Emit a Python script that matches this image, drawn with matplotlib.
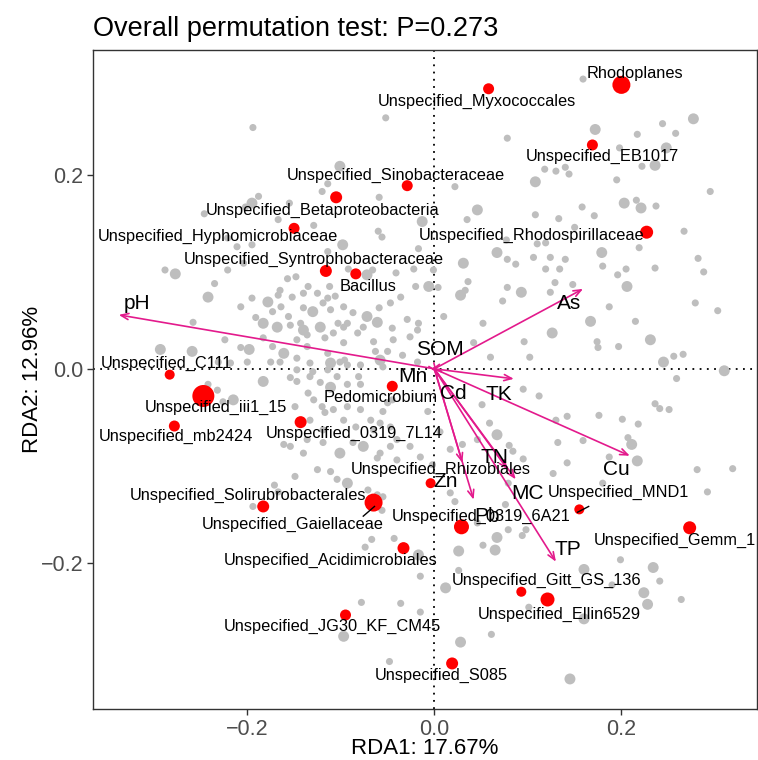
import matplotlib
matplotlib.use("Agg")
import matplotlib.pyplot as plt
import numpy as np

plt.rcParams['font.family'] = ['Liberation Sans', 'DejaVu Sans']

# ---------------- data ----------------
title = "Overall permutation test: P=0.273"
xlabel = "RDA1: 17.67%"
ylabel = "RDA2: 12.96%"

# background taxa (grey), big = higher abundance
grey_pts = [
    (-0.194, 0.249, 0), (-0.052, 0.259, 0), (-0.101, 0.209, 1), (-0.114, 0.191, 0), (-0.120, 0.183, 0),
    (-0.059, 0.177, 0), (-0.188, 0.178, 0), (-0.195, 0.171, 1), (-0.202, 0.167, 0), (-0.155, 0.171, 0),
    (-0.246, 0.160, 0), (-0.167, 0.154, 0), (-0.129, 0.148, 0), (-0.060, 0.142, 0), (-0.056, 0.136, 0),
    (-0.013, 0.152, 1), (-0.098, 0.128, 1), (-0.211, 0.126, 0), (-0.017, 0.124, 0), (-0.288, 0.102, 0),
    (-0.277, 0.098, 1), (-0.221, 0.102, 0), (-0.092, 0.103, 0), (-0.072, 0.097, 1), (-0.066, 0.102, 0),
    (-0.041, 0.099, 0), (-0.022, 0.103, 0), (-0.235, 0.088, 0), (-0.157, 0.093, 0), (-0.148, 0.095, 0),
    (-0.112, 0.085, 0), (-0.020, 0.085, 0), (0.159, 0.299, 0), (0.172, 0.247, 1), (0.244, 0.253, 0),
    (0.277, 0.258, 1), (0.217, 0.242, 0), (0.258, 0.243, 0), (0.078, 0.238, 0), (0.248, 0.228, 1),
    (0.198, 0.228, 0), (0.236, 0.210, 1), (0.222, 0.209, 0), (0.118, 0.206, 0), (0.130, 0.204, 0),
    (0.140, 0.208, 0), (0.144, 0.201, 0), (0.195, 0.195, 0), (0.108, 0.193, 1), (0.022, 0.188, 0),
    (0.295, 0.183, 0), (0.203, 0.171, 1), (0.216, 0.174, 0), (0.221, 0.166, 1), (0.237, 0.168, 0),
    (0.158, 0.167, 0), (0.046, 0.164, 1), (0.035, 0.154, 0), (0.108, 0.159, 0), (0.133, 0.155, 0),
    (0.150, 0.146, 0), (0.171, 0.158, 0), (0.267, 0.142, 0), (0.179, 0.120, 1), (0.219, 0.125, 0),
    (0.067, 0.120, 1), (0.078, 0.113, 0), (0.087, 0.108, 0), (0.106, 0.115, 0), (0.124, 0.115, 0),
    (0.140, 0.113, 0), (0.119, 0.103, 0), (0.134, 0.103, 0), (0.180, 0.106, 0), (0.196, 0.097, 0),
    (0.205, 0.103, 0), (0.236, 0.104, 0), (0.282, 0.114, 0), (0.288, 0.100, 0), (0.031, 0.109, 1),
    (0.036, 0.090, 0), (0.129, 0.089, 0), (0.148, 0.087, 0), (0.206, 0.085, 1), (-0.001, 0.102, 0),
    (0.077, 0.133, 0), (0.119, 0.130, 0), (0.110, 0.129, 0), (0.124, 0.079, 0), (0.093, 0.079, 1),
    (0.078, 0.084, 0), (-0.221, 0.135, 0), (-0.195, 0.128, 0), (-0.114, 0.121, 0), (-0.204, 0.109, 0),
    (-0.242, 0.074, 1), (-0.165, 0.081, 0), (-0.195, 0.073, 0), (-0.178, 0.069, 1), (-0.167, 0.076, 0),
    (-0.152, 0.074, 0), (-0.140, 0.078, 0), (-0.135, 0.085, 0), (-0.125, 0.078, 0), (-0.114, 0.073, 0),
    (-0.106, 0.075, 0), (-0.006, 0.085, 1), (0.004, 0.084, 0), (0.028, 0.076, 1), (0.033, 0.081, 0),
    (-0.036, 0.074, 0), (-0.047, 0.068, 0), (-0.059, 0.063, 0),
    (-0.164, 0.064, 0), (-0.140, 0.063, 0), (-0.130, 0.059, 1), (-0.119, 0.068, 0), (-0.111, 0.061, 0),
    (-0.097, 0.064, 0), (-0.087, 0.058, 0), (-0.072, 0.054, 1), (-0.061, 0.048, 1), (-0.045, 0.042, 0),
    (-0.029, 0.051, 0), (-0.018, 0.040, 0), (-0.207, 0.064, 0), (-0.173, 0.059, 0), (-0.156, 0.054, 0),
    (-0.191, 0.053, 0), (-0.183, 0.047, 1), (-0.168, 0.043, 1), (-0.154, 0.045, 0), (-0.140, 0.040, 1),
    (-0.122, 0.043, 1), (-0.103, 0.047, 0), (-0.076, 0.043, 0), (-0.258, 0.048, 0), (-0.224, 0.030, 0),
    (-0.293, 0.020, 1), (-0.259, 0.018, 1), (-0.198, 0.020, 1), (-0.173, 0.023, 0), (-0.161, 0.016, 1),
    (-0.136, 0.023, 0), (-0.117, 0.032, 0), (-0.097, 0.027, 0), (-0.082, 0.037, 0), (-0.065, 0.028, 0),
    (-0.050, 0.018, 0), (-0.058, 0.009, 1), (-0.175, 0.007, 0), (-0.147, 0.011, 0), (-0.133, 0.006, 0),
    (-0.111, 0.006, 1), (-0.093, 0.004, 0), (-0.218, 0.006, 0), (-0.200, 0.007, 0), (-0.231, 0.007, 0),
    (-0.143, 0.047, 0), (-0.136, 0.035, 0), (-0.108, 0.037, 0), (-0.097, 0.043, 0), (-0.147, 0.030, 0),
    (-0.183, 0.032, 0), (-0.207, 0.022, 0), (-0.114, 0.016, 0), (-0.165, 0.007, 0), (-0.147, -0.001, 0),
    (-0.130, -0.003, 0), (-0.114, -0.001, 0), (-0.101, 0.007, 0), (-0.093, 0.047, 0), (-0.017, 0.047, 0),
    (-0.026, 0.033, 0), (0.010, 0.054, 0), (0.052, 0.047, 0), (-0.044, 0.030, 0), (-0.063, 0.018, 0),
    (-0.034, 0.014, 0), (-0.018, 0.007, 0), (-0.096, 0.009, 0), (-0.079, 0.004, 0), (-0.055, 0.002, 0),
    (0.042, 0.027, 0), (0.060, 0.012, 0),
    (0.279, 0.068, 0), (0.303, 0.060, 0), (0.187, 0.064, 0), (0.167, 0.049, 1), (0.215, 0.049, 0),
    (0.126, 0.037, 1), (0.096, 0.028, 0), (0.174, 0.028, 0), (0.175, 0.022, 0), (0.197, 0.023, 0),
    (0.231, 0.030, 1), (0.245, 0.007, 1), (0.256, 0.013, 0), (0.266, 0.015, 0), (0.310, -0.002, 1),
    (0.073, 0.070, 0), (0.102, 0.012, 0),
    (-0.183, -0.013, 1), (-0.154, -0.009, 0), (-0.147, -0.013, 0), (-0.133, -0.008, 0), (-0.122, -0.014, 0),
    (-0.111, -0.019, 1), (-0.093, -0.016, 0), (-0.079, -0.016, 0), (-0.104, -0.008, 0), (-0.081, -0.008, 0),
    (-0.242, -0.016, 0), (-0.232, -0.022, 0), (-0.226, -0.034, 0), (-0.215, -0.032, 1), (-0.135, -0.025, 0),
    (-0.129, -0.032, 0), (-0.120, -0.039, 0), (-0.149, -0.039, 0), (-0.117, -0.045, 0), (-0.108, -0.042, 0),
    (-0.093, -0.039, 0), (-0.079, -0.042, 0), (-0.068, -0.053, 0), (-0.058, -0.056, 0), (-0.055, -0.044, 0),
    (-0.050, -0.035, 0), (-0.045, -0.032, 0), (-0.133, -0.053, 0), (-0.097, -0.053, 0), (-0.084, -0.060, 0),
    (-0.065, -0.063, 0), (-0.047, -0.060, 0), (-0.119, -0.063, 0), (-0.154, -0.080, 0), (-0.136, -0.073, 0),
    (-0.101, -0.087, 1), (-0.119, -0.076, 0), (-0.140, -0.087, 0), (-0.076, -0.080, 1), (-0.058, -0.087, 0),
    (-0.040, -0.073, 0), (-0.026, -0.080, 0), (-0.040, -0.094, 0), (-0.015, -0.091, 0), (-0.125, -0.104, 0),
    (-0.111, -0.106, 0), (-0.104, -0.114, 0), (-0.093, -0.118, 1), (-0.071, -0.125, 0), (-0.061, -0.130, 0),
    (-0.171, -0.120, 0), (-0.149, -0.111, 0), (-0.194, -0.142, 0), (-0.087, -0.076, 0), (-0.161, -0.078, 0),
    (-0.061, -0.092, 0), (-0.047, -0.080, 0), (-0.167, -0.127, 0), (-0.060, -0.138, 0),
    (0.259, -0.010, 0), (0.095, -0.021, 0), (0.112, -0.028, 0), (0.051, -0.037, 0), (0.236, -0.036, 0),
    (0.241, -0.041, 0), (0.251, -0.042, 0), (0.130, -0.053, 0), (0.142, -0.049, 0), (0.176, -0.048, 0),
    (0.201, -0.052, 0), (0.218, -0.057, 0), (0.059, -0.056, 0), (0.067, -0.068, 1), (0.159, -0.074, 0),
    (0.132, -0.076, 0), (0.207, -0.071, 0), (0.211, -0.078, 1), (0.080, -0.079, 0), (0.084, -0.085, 0),
    (0.187, -0.091, 0), (0.217, -0.095, 1), (0.142, -0.097, 0), (0.095, -0.093, 0), (0.281, -0.104, 0),
    (0.319, -0.103, 0), (0.180, -0.118, 0), (0.292, -0.127, 0), (0.127, -0.108, 0), (-0.007, -0.044, 0),
    (0.006, -0.065, 0), (0.017, -0.083, 0), (-0.002, -0.099, 0), (0.046, -0.073, 0), (0.030, -0.078, 0),
    (0.079, -0.118, 0), (0.076, -0.140, 0), (0.022, -0.137, 0), (0.046, -0.159, 0), (0.079, -0.166, 0),
    (0.017, -0.128, 0), (0.098, -0.166, 0), (0.094, -0.172, 0), (0.067, -0.174, 1), (0.052, -0.182, 0),
    (0.065, -0.187, 1), (0.026, -0.188, 1), (0.199, -0.197, 0), (0.160, -0.207, 1), (0.234, -0.205, 1),
    (0.241, -0.219, 0), (0.190, -0.223, 0), (0.224, -0.231, 1), (0.264, -0.238, 0), (0.228, -0.243, 1),
    (0.026, -0.208, 0), (0.012, -0.226, 1), (0.092, -0.231, 0), (0.123, -0.235, 0), (0.101, -0.246, 0),
    (0.160, -0.258, 1), (0.061, -0.274, 0), (0.028, -0.282, 1), (0.145, -0.320, 1), (-0.015, -0.214, 0),
    (-0.015, -0.251, 0), (-0.055, -0.132, 0), (-0.056, -0.146, 0), (-0.067, -0.176, 0), (-0.074, -0.184, 0),
    (-0.043, -0.175, 0), (-0.017, -0.192, 1), (-0.078, -0.241, 0), (-0.036, -0.242, 0), (-0.097, -0.276, 1),
    (-0.048, -0.302, 0),
]
grey_x = [p[0] for p in grey_pts]
grey_y = [p[1] for p in grey_pts]
grey_big = [p[2] for p in grey_pts]

# highlighted taxa (red)
taxa = ["Rhodoplanes", "Unspecified_Myxococcales", "Unspecified_EB1017", "Unspecified_Sinobacteraceae",
        "Unspecified_Betaproteobacteria", "Unspecified_Hyphomicrobiaceae", "Unspecified_Rhodospirillaceae",
        "Unspecified_Syntrophobacteraceae", "Bacillus", "Unspecified_C111", "Unspecified_iii1_15",
        "Unspecified_mb2424", "Pedomicrobium", "Unspecified_0319_7L14", "Unspecified_Rhizobiales",
        "Unspecified_Solirubrobacterales", "Unspecified_Gaiellaceae", "Unspecified_0319_6A21",
        "Unspecified_MND1", "Unspecified_Gemm_1", "Unspecified_Acidimicrobiales", "Unspecified_Gitt_GS_136",
        "Unspecified_Ellin6529", "Unspecified_JG30_KF_CM45", "Unspecified_S085"]
taxa_x = [0.200, 0.058, 0.169, -0.029, -0.105, -0.150, 0.227, -0.116, -0.084, -0.283, -0.247,
          -0.278, -0.045, -0.143, -0.004, -0.183, -0.065, 0.029, 0.155, 0.273, -0.033, 0.093,
          0.121, -0.095, 0.019]
taxa_y = [0.293, 0.289, 0.231, 0.189, 0.177, 0.145, 0.141, 0.101, 0.098, -0.006, -0.028,
          -0.059, -0.018, -0.055, -0.118, -0.142, -0.138, -0.163, -0.145, -0.164, -0.185, -0.230,
          -0.238, -0.254, -0.304]
taxa_abund = [18, 11, 11, 11, 12, 11, 13, 12, 11, 10, 22, 11, 11, 12, 10, 12, 18, 15, 10, 13, 12, 10, 14, 11, 12]

# environmental vectors
env = ["pH", "As", "SOM", "Mn", "Cd", "TK", "Cu", "TN", "MC", "Zn", "Pb", "TP"]
env_x = [-0.3375, 0.159, -0.002, -0.004, 0.003, 0.085, 0.209, 0.0785, 0.087, 0.030, 0.042, 0.130]
env_y = [0.0557, 0.0825, 0.002, -0.001, -0.004, -0.0103, -0.0897, -0.104, -0.114, -0.097, -0.135, -0.199]

# ---------------- layout (label placement) ----------------
taxa_label_pos = [(0.215, 0.305), (0.046, 0.276), (0.180, 0.219), (-0.041, 0.200), (-0.119, 0.163),
                  (-0.231, 0.137), (0.104, 0.138), (-0.129, 0.113), (-0.071, 0.085), (-0.287, 0.006),
                  (-0.234, -0.040), (-0.276, -0.070), (-0.057, -0.030), (-0.086, -0.067), (0.007, -0.104),
                  (-0.199, -0.131), (-0.151, -0.161), (0.050, -0.152), (0.197, -0.128), (0.257, -0.177),
                  (-0.111, -0.198), (0.120, -0.218), (0.134, -0.253), (-0.109, -0.266), (0.007, -0.316)]
env_label_pos = [(-0.318, 0.067), (0.144, 0.067), (0.006, 0.020), (-0.023, -0.008), (0.020, -0.025),
                 (0.0695, -0.026), (0.195, -0.104), (0.0645, -0.091), (0.100, -0.129), (0.0125, -0.1165),
                 (0.056, -0.152), (0.143, -0.186)]

fig = plt.figure(figsize=(7.58, 7.60), dpi=100)
ax = fig.add_axes([93/758, 51/760, 664/758, 659/760])
ax.set_xlim(-0.365, 0.345)
ax.set_ylim(-0.351, 0.329)

ax.axhline(0, color='black', lw=1.3, ls=(0, (1, 3)), zorder=1)
ax.axvline(0, color='black', lw=1.3, ls=(0, (1, 3)), zorder=1)

gs = np.where(np.array(grey_big) == 1, 62, 26)
ax.scatter(grey_x, grey_y, s=gs, color='#BEBEBE', edgecolors='none', zorder=2)

rs = (np.array(taxa_abund) * 0.72) ** 2
ax.scatter(taxa_x, taxa_y, s=rs, color='#FF0000', edgecolors='none', zorder=3)

pink = '#E31A8C'
for ex, ey in zip(env_x, env_y):
    ax.annotate('', xy=(ex, ey), xytext=(0, 0),
                arrowprops=dict(arrowstyle='->,head_length=0.55,head_width=0.22', color=pink,
                                lw=1.2, shrinkA=0, shrinkB=0), zorder=4)

for name, (lx, ly) in zip(env, env_label_pos):
    ax.text(lx, ly, name, fontsize=15, ha='center', va='center', color='black', zorder=5)

for name, (lx, ly) in zip(taxa, taxa_label_pos):
    ax.text(lx, ly, name, fontsize=11.8, ha='center', va='center', color='black', zorder=5, clip_on=True)

# connector segments for repelled labels
ax.plot([-0.076, -0.064], [-0.152, -0.142], color='black', lw=1.0, zorder=5)
ax.plot([0.153, 0.165], [-0.148, -0.142], color='black', lw=1.0, zorder=5)

ax.set_xticks([-0.2, 0.0, 0.2])
ax.set_yticks([-0.2, 0.0, 0.2])
ax.set_xticklabels(['\u22120.2', '0.0', '0.2'])
ax.set_yticklabels(['\u22120.2', '0.0', '0.2'])
ax.tick_params(axis='both', labelsize=15.5, labelcolor='#4D4D4D', color='#333333',
               length=4, width=1, pad=3)
for sp in ax.spines.values():
    sp.set_color('#333333')
    sp.set_linewidth(1.0)

ax.set_xlabel(xlabel, fontsize=16, labelpad=-1)
ax.set_ylabel(ylabel, fontsize=16, labelpad=-2)
ax.set_title(title, fontsize=19.5, loc='left', pad=10)

fig.savefig('out.png', dpi=100)
